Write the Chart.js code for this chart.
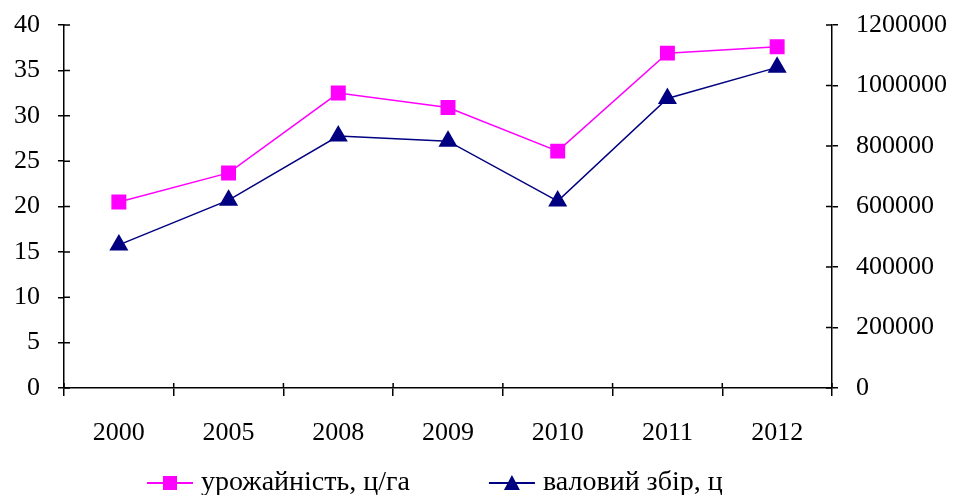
<!DOCTYPE html>
<html>
<head>
<meta charset="utf-8">
<script src="https://cdn.jsdelivr.net/npm/chart.js@4"></script>
<style>
  body { margin: 0; background: #fff; }
  #wrap { width: 961px; height: 495px; }
</style>
</head>
<body>
<div id="wrap"><canvas id="chart"></canvas></div>
<script>
// years on the x axis
var years = ["2000", "2005", "2008", "2009", "2010", "2011", "2012"];
// yield, c/ha (left axis)
var yieldValues = [20.5, 23.7, 32.5, 30.9, 26.1, 36.9, 37.6];
// gross harvest, c (right axis)
var harvestValues = [473000, 621000, 833000, 816000, 618000, 957000, 1060000];
var seriesNames = ["урожайність, ц/га", "валовий збір, ц"];

var FONT = "'Liberation Serif', 'Times New Roman', serif";
var FSIZE = 26;

// inner halves of the tick marks (Excel-style ticks crossing the axis)
var crossTicks = {
	id: "crossTicks",
	afterDraw: function(chart) {
		var g = chart.ctx;
		var a = chart.chartArea;
		g.save();
		g.strokeStyle = "#000";
		g.lineWidth = 1.5;
		g.beginPath();
		["y", "y1"].forEach(function(id) {
			var s = chart.scales[id];
			var x = id === "y" ? a.left : a.right;
			var dir = id === "y" ? 1 : -1;
			s.ticks.forEach(function(t, i) {
				var py = s.getPixelForTick(i);
				g.moveTo(x, py); g.lineTo(x + dir * 6, py);
			});
		});
		var xs = chart.scales.x;
		var n = years.length;
		for (var i = 0; i <= n; i++) {
			var px = xs.left + i * xs.width / n;
			g.moveTo(px, a.bottom); g.lineTo(px, a.bottom - 5);
		}
		g.stroke();
		g.restore();
	}
};

// legend: line with the marker, then the label
var lineLegend = {
	id: "lineLegend",
	afterDraw: function(chart) {
		var g = chart.ctx;
		var a = chart.chartArea;
		g.save();
		g.font = "28px " + FONT;
		g.textBaseline = "middle";
		var iconW = 46, gapText = 8, gapItem = 79;
		var x = a.left + 83;
		var y = 483;
		chart.data.datasets.forEach(function(ds, i) {
			g.strokeStyle = ds.borderColor;
			g.fillStyle = ds.borderColor;
			g.lineWidth = 2;
			g.beginPath(); g.moveTo(x, y); g.lineTo(x + iconW, y); g.stroke();
			var cx = x + iconW / 2;
			if (i === 0) {
				g.fillRect(cx - 7, y - 7, 14, 14);
			} else {
				g.beginPath(); g.moveTo(cx, y - 8); g.lineTo(cx + 8, y + 7); g.lineTo(cx - 8, y + 7); g.closePath(); g.fill();
			}
			x += iconW + gapText;
			g.fillStyle = "#000";
			g.fillText(seriesNames[i], x, y);
			x += g.measureText(seriesNames[i]).width + gapItem;
		});
		g.restore();
	}
};

function fitY(s) {
	s.width = s.axis === "y" && s.position === "left" ? 64 : 129;
	s.paddingTop = 0;
	s.paddingBottom = 0;
}

var ctx = document.getElementById("chart").getContext("2d");
var chart = new Chart(ctx, {
	type: "line",
	data: {
		labels: years,
		datasets: [{
			label: seriesNames[0],
			data: yieldValues,
			yAxisID: "y",
			borderColor: "#ff00ff",
			backgroundColor: "#ff00ff",
			borderWidth: 1.5,
			pointStyle: "rect",
			pointRadius: 9.5,
			pointHoverRadius: 9.5,
			tension: 0
		}, {
			label: seriesNames[1],
			data: harvestValues,
			yAxisID: "y1",
			borderColor: "#000080",
			backgroundColor: "#000080",
			borderWidth: 1.5,
			pointStyle: "triangle",
			pointRadius: 9.5,
			pointHoverRadius: 9.5,
			tension: 0
		}]
	},
	plugins: [crossTicks, lineLegend],
	options: {
		responsive: true,
		maintainAspectRatio: false,
		animation: false,
		layout: { padding: { top: 25, left: 0, right: 0, bottom: 0 } },
		plugins: {
			tooltip: { enabled: false },
			legend: { display: false }
		},
		scales: {
			x: {
				offset: true,
				grid: { offset: true, drawOnChartArea: false, color: "#000", tickLength: 8, lineWidth: 1.5 },
				border: { color: "#000", width: 1.5 },
				ticks: { color: "#000", font: { family: FONT, size: FSIZE }, padding: 22, maxRotation: 0 },
				afterFit: function(s) { s.height = 107; s.paddingLeft = 0; s.paddingRight = 0; }
			},
			y: {
				position: "left",
				min: 0, max: 40,
				ticks: { stepSize: 5, color: "#000", font: { family: FONT, size: FSIZE }, padding: 18 },
				grid: { drawOnChartArea: false, color: "#000", tickLength: 6, lineWidth: 1.5 },
				border: { color: "#000", width: 1.5 },
				afterFit: fitY
			},
			y1: {
				position: "right",
				min: 0, max: 1200000,
				ticks: {
					stepSize: 200000, color: "#000", font: { family: FONT, size: FSIZE }, padding: 18,
					callback: function(v) { return String(v); }
				},
				grid: { drawOnChartArea: false, color: "#000", tickLength: 6, lineWidth: 1.5 },
				border: { color: "#000", width: 1.5 },
				afterFit: fitY
			}
		}
	}
});
</script>
</body>
</html>
